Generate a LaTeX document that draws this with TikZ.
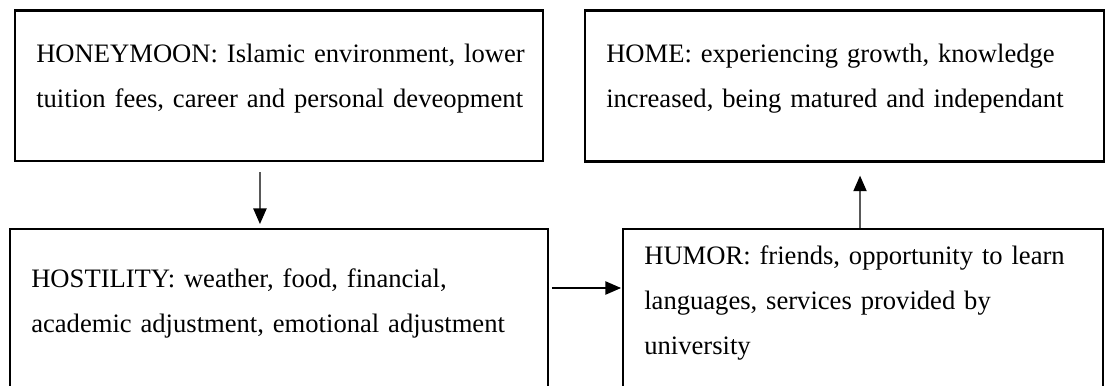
\documentclass[tikz,border=0pt]{standalone}
\usepackage{fontspec}
\setmainfont{Liberation Serif}
\usepackage{tikz}
\usetikzlibrary{arrows.meta, positioning, calc}
\tikzset{
    stagebox/.style = {draw=black, line width=1.1pt, anchor=north west,
        inner xsep=9.6pt, inner ysep=0pt, outer sep=0pt, align=left,
        font=\fontsize{12pt}{20.3pt}\selectfont},
    flow/.style = {->, line width=0.5pt},
}

\begin{document}
\begin{tikzpicture}[>={Triangle[length=7pt,width=6pt]}, x=0.451pt, y=-0.451pt]
        \path[use as bounding box, clip] (0,0) rectangle (1107,385);
        \node (honeymoon) [stagebox, text width=218.9pt, text height=23.5pt, text depth=44.2pt] at (15,10.7)
            {\mbox{HONEYMOON: Islamic environment, lower}\\\mbox{tuition fees, career and personal deveopment}};
        \node (home) [stagebox, text width=214.9pt, text height=23.5pt, text depth=44.6pt] at (585,10.7)
            {\mbox{HOME: experiencing growth, knowledge}\\\mbox{increased, being matured and independant}};
        \node (hostility) [stagebox, text width=223.4pt, text height=26.2pt, text depth=55pt] at (10,229)
            {\mbox{HOSTILITY: weather, food, financial,}\\\mbox{academic adjustment, emotional adjustment}};
        \node (humor) [stagebox, text width=197.3pt, text height=16.2pt, text depth=65pt] at (623,229)
            {\mbox{HUMOR: friends, opportunity to learn}\\\mbox{languages, services provided by}\\university};
        \draw[flow] ($(honeymoon.south)+(-19,11.3)$) -- ($(hostility.north)+(-19,-5)$);
        \draw[flow] ($(hostility.north east)+(4,59)$) -- ($(humor.north west)+(-2,59)$);
        \draw[flow] ($(humor.north)+(-3,0)$) -- ($(home.south)+(15.5,14)$);
\end{tikzpicture}
\end{document}
